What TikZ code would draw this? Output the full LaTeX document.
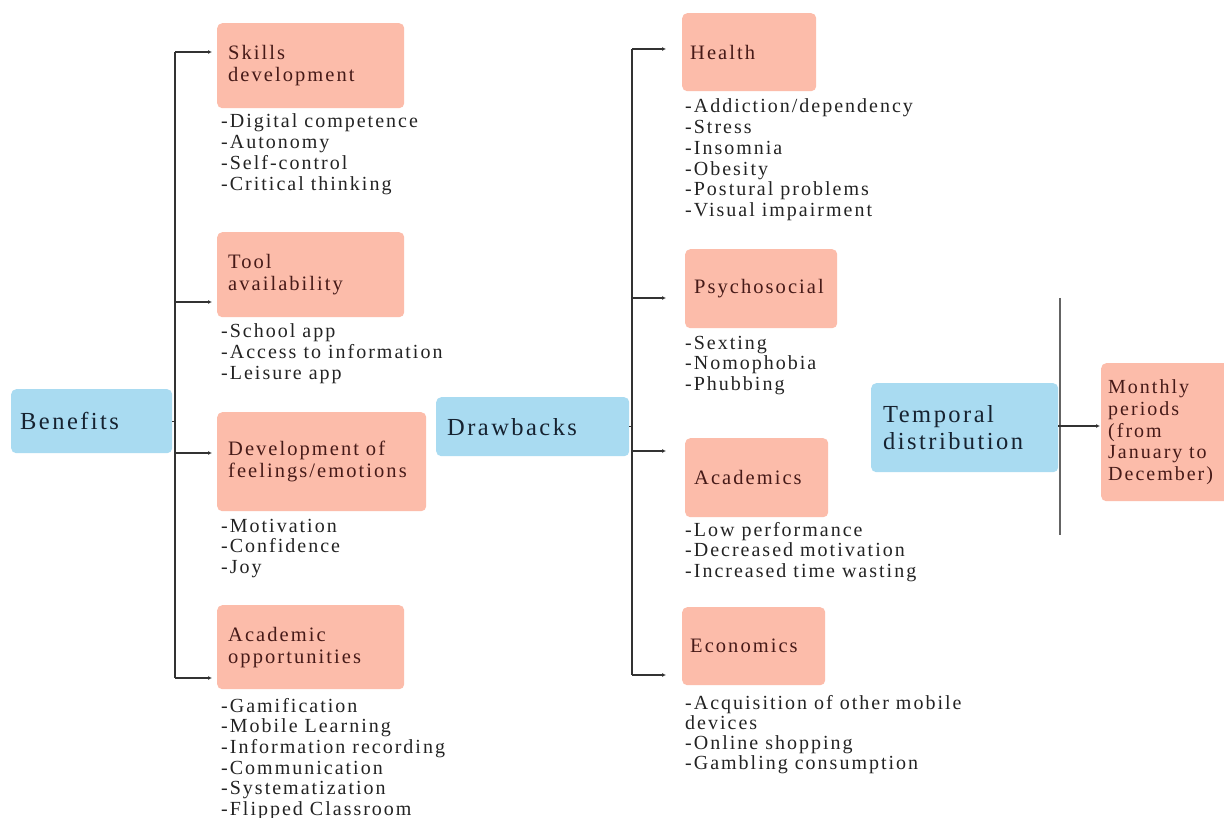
\documentclass[tikz,border=0pt]{standalone}
\usepackage{fontspec}
\setmainfont{Liberation Serif}[LetterSpace=10]
\usetikzlibrary{arrows.meta}
\definecolor{bluebox}{RGB}{169,219,241}
\definecolor{salbox}{RGB}{252,188,170}
\definecolor{bluetext}{RGB}{22,34,48}
\definecolor{saltext}{RGB}{70,26,24}
\definecolor{itemtext}{RGB}{35,35,35}
\definecolor{linecol}{RGB}{50,50,50}
\definecolor{graycol}{RGB}{100,100,100}
\begin{document}
\begin{tikzpicture}[x=1pt,y=-1pt,
  box/.style={rectangle, rounded corners=5pt, inner ysep=0pt, align=left, anchor=north west},
  bluenode/.style={box, fill=bluebox, text=bluetext, font=\fontsize{24.5}{27}\selectfont},
  salnode/.style={box, fill=salbox, text=saltext, font=\fontsize{20.5}{22}\selectfont},
  items/.style={anchor=base west, align=left, inner sep=0pt, text=itemtext, font=\fontsize{20}{20.7}\selectfont},
  bus/.style={draw=linecol, line width=1.2pt},
  arr/.style={draw=linecol, line width=1.2pt, -{Latex[length=4pt,width=4pt]}}
]
\useasboundingbox (0,0) rectangle (1224,818);
\clip (0,0) rectangle (1224,818);
\fill[white] (0,0) rectangle (1224,818);

% ---------- Benefits ----------
\node[bluenode, inner xsep=9pt, text width=143pt, minimum height=64pt] (benefits) at (11,389) {Benefits};

\node[salnode, inner xsep=11pt, text width=165pt, minimum height=85pt] (skills) at (217,23) {Skills\\development};
\node[items] (skillsi) at (221,190.1) {-Digital competence\\-Autonomy\\-Self-control\\-Critical thinking};

\node[salnode, inner xsep=11pt, text width=165pt, minimum height=85pt] (tool) at (217,232) {Tool\\availability};
\node[items] (tooli) at (221,379.4) {-School app\\-Access to information\\-Leisure app};

\node[salnode, inner xsep=11pt, text width=187pt, minimum height=99pt] (devel) at (217,412) {Development of\\feelings/emotions};
\node[items] (develi) at (221,573.4) {-Motivation\\-Confidence\\-Joy};

\node[salnode, inner xsep=11pt, text width=165pt, minimum height=84pt] (acadopp) at (217,605) {Academic\\opportunities};
\node[items] (acadoppi) at (221,815.5) {-Gamification\\-Mobile Learning\\-Information recording\\-Communication\\-Systematization\\-Flipped Classroom};

\coordinate (b1) at (175,52);
\coordinate (b2) at (175,302);
\coordinate (b3) at (175,453);
\coordinate (b4) at (175,678);
\draw[bus] (b1) -- (b4);
\draw[bus] (benefits.east) -- (benefits.east -| b1);
\draw[arr, shorten >=5pt] (b1) -- (skills.west |- b1);
\draw[arr, shorten >=5pt] (b2) -- (tool.west |- b2);
\draw[arr, shorten >=5pt] (b3) -- (devel.west |- b3);
\draw[arr, shorten >=5pt] (b4) -- (acadopp.west |- b4);

% ---------- Drawbacks ----------
\node[bluenode, inner xsep=11pt, text width=171pt, minimum height=59pt] (drawbacks) at (436,397) {Drawbacks};

\node[salnode, inner xsep=8pt, text width=118pt, minimum height=78pt] (health) at (682,13) {Health};
\node[items] (healthi) at (685,216.5) {-Addiction/dependency\\-Stress\\-Insomnia\\-Obesity\\-Postural problems\\-Visual impairment};

\node[salnode, inner xsep=9pt, text width=134pt, minimum height=79pt] (psycho) at (685,249) {Psychosocial};
\node[items] (psychoi) at (685,390.4) {-Sexting\\-Nomophobia\\-Phubbing};

\node[salnode, inner xsep=9pt, text width=125pt, minimum height=79pt] (academics) at (685,438) {Academics};
\node[items] (academicsi) at (685,577.4) {-Low performance\\-Decreased motivation\\-Increased time wasting};

\node[salnode, inner xsep=8pt, text width=127pt, minimum height=78pt] (econ) at (682,607) {Economics};
\node[items, font=\fontsize{20}{20.3}\selectfont] (econi) at (685,769.9) {-Acquisition of other mobile\\devices\\-Online shopping\\-Gambling consumption};

\coordinate (m1) at (632,49);
\coordinate (m2) at (632,298);
\coordinate (m3) at (632,451);
\coordinate (m4) at (632,675);
\draw[bus] (m1) -- (m4);
\draw[bus] (drawbacks.east) -- (drawbacks.east -| m1);
\draw[arr, shorten >=16pt] (m1) -- (health.west |- m1);
\draw[arr, shorten >=19pt] (m2) -- (psycho.west |- m2);
\draw[arr, shorten >=19pt] (m3) -- (academics.west |- m3);
\draw[arr, shorten >=16pt] (m4) -- (econ.west |- m4);

% ---------- Temporal distribution ----------
\node[bluenode, inner xsep=12pt, text width=163pt, minimum height=89pt] (temporal) at (871,383) {Temporal\\distribution};
\node[salnode, inner xsep=7pt, text width=140pt, minimum height=138pt, font=\fontsize{20}{21.75}\selectfont] (monthly) at (1101,363) {Monthly\\periods\\(from\\January to\\December)};

\coordinate (t1) at (1060,298);
\coordinate (t2) at (1060,535);
\coordinate (t3) at (1060,426);
\draw[draw=graycol, line width=1.5pt] (t1) -- (t2);
\draw[bus] (temporal.east |- t3) -- (t3);
\draw[arr, shorten >=1pt] (t3) -- (monthly.west |- t3);
\end{tikzpicture}
\end{document}
